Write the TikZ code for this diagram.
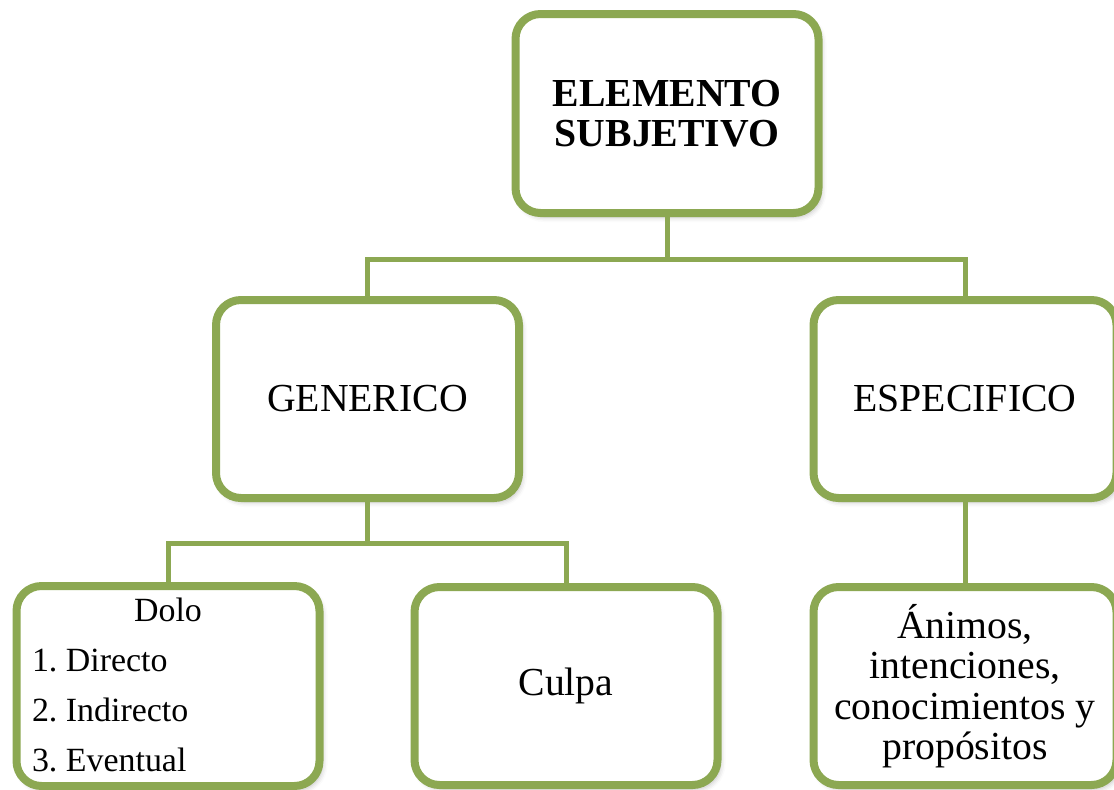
\documentclass[tikz,border=0pt]{standalone}
\usepackage{fontspec}
\setmainfont{Liberation Serif}
\usetikzlibrary{shadows.blur}

\definecolor{leaf}{RGB}{140,168,82}

\tikzset{
  box/.style={draw=leaf, line width=0.16cm, fill=white, rounded corners=0.5cm,
    minimum width=6.06cm, minimum height=3.96cm, inner sep=0pt, outer sep=0pt,
    align=center, font=\fontsize{22.6}{23}\selectfont,
    blur shadow={shadow xshift=0.06cm, shadow yshift=-0.08cm, shadow blur radius=0.1cm, shadow opacity=25}},
  link/.style={draw=leaf, line width=0.1cm}
}

\begin{document}
\begin{tikzpicture}
\useasboundingbox (0,0) rectangle (22.28,-15.78);

% level 1
\node[box, minimum height=3.98cm] (top) at (13.34,-2.27) {\textbf{ELEMENTO}\\\textbf{SUBJETIVO}};

% level 2
\node[box] (gen) at (7.35,-7.98) {GENERICO};
\node[box] (esp) at (19.3,-7.98) {ESPECIFICO};

% level 3
\node[box] (dolo) at (3.36,-13.72) {\fontsize{19.3}{28.45}\selectfont
  \begin{tabular}{@{}p{5.44cm}@{}}
  \multicolumn{1}{c}{Dolo}\\
  1.\ Directo\\
  2.\ Indirecto\\
  3.\ Eventual
  \end{tabular}};
\node[box] (culpa) at (11.32,-13.72) {Culpa};
\node[box] (animo) at (19.3,-13.72) {Ánimos,\\intenciones,\\conocimientos y\\propósitos};

% bus lines between levels
\coordinate (busA) at (0,-5.18);
\coordinate (busB) at (0,-10.86);

\draw[link] (top.south) -- (top.south |- busA);
\draw[link] (gen.north) |- (top.south |- busA) -| (esp.north);
\draw[link] (gen.south) -- (gen.south |- busB);
\draw[link] (dolo.north) |- (gen.south |- busB) -| (culpa.north);
\draw[link] (esp.south) -- (animo.north);
\end{tikzpicture}
\end{document}
